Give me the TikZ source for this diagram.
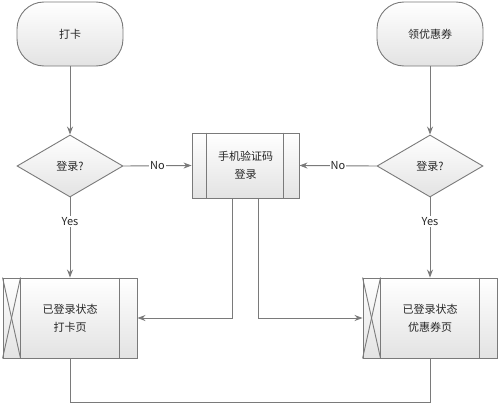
\documentclass[tikz,border=0pt]{standalone}
\usepackage{fontspec}
\setmainfont{Noto Sans CJK SC}
\usetikzlibrary{arrows.meta,shapes.geometric}
\definecolor{linegray}{HTML}{7A7A7A}
\definecolor{textgray}{HTML}{262626}

\begin{document}
\begin{tikzpicture}[x=1pt,y=-1pt,
        font=\fontsize{11}{18}\selectfont,
        every node/.append style={text=textgray},
        boxfill/.style={draw=linegray,line width=0.9pt,top color=white,bottom color=black!11},
        terminal/.style={boxfill,rectangle,rounded corners=27pt,minimum width=106pt,minimum height=64pt},
        decision/.style={boxfill,diamond,inner sep=0pt,minimum width=106pt,minimum height=62pt},
        process/.style={boxfill,rectangle,align=center,inner sep=0pt},
        link/.style={draw=linegray,line width=0.9pt,-{Stealth[length=8pt,width=6pt]}},
        tag/.style={fill=white,inner sep=1pt}]
    \useasboundingbox (0,0) rectangle (500,404);

    % start and decisions
    \node[terminal] (card) at (70,34) {打卡};
    \node[terminal] (coupon) at (430,34) {领优惠券};
    \node[decision] (ask1) at (70,166) {登录?};
    \node[decision] (ask2) at (430,166) {登录?};

    % process boxes
    \node[process,minimum width=107pt,minimum height=65pt] (sms) at (245.5,165.5) {手机验证码\\登录};
    \node[process,minimum width=134pt,minimum height=80pt] (cardpage) at (70,318) {已登录状态\\打卡页};
    \node[process,minimum width=134pt,minimum height=80pt] (couponpage) at (430,318) {已登录状态\\优惠券页};
    \coordinate (base) at (250,402);

    \begin{scope}[draw=linegray,line width=0.9pt]
        \draw ([xshift=15pt]sms.north west) -- ([xshift=15pt]sms.south west);
        \draw ([xshift=-16pt]sms.north east) -- ([xshift=-16pt]sms.south east);
        \foreach \n in {cardpage,couponpage} {
            \draw ([xshift=18pt]\n.north west) -- ([xshift=18pt]\n.south west);
            \draw ([xshift=-18pt]\n.north east) -- ([xshift=-18pt]\n.south east);
            \draw (\n.north west) -- ([xshift=18pt]\n.south west);
            \draw (\n.south west) -- ([xshift=18pt]\n.north west);
        }
    \end{scope}

    % connectors
    \begin{scope}[every path/.style={link}]
        \path (card) -- (ask1);
        \path (coupon) -- (ask2);
        \path (ask1.east) -- node[tag] {No} (sms.west);
        \path (ask2.west) -- node[tag] {No} (sms.east);
        \path (ask1.south) -- node[tag,pos=0.3] {Yes} (cardpage.north);
        \path (ask2.south) -- node[tag,pos=0.3] {Yes} (couponpage.north);
        \path ([xshift=-13pt]sms.south) |- (cardpage.east);
        \path ([xshift=13pt]sms.south) |- (couponpage.west);
    \end{scope}
    \draw[draw=linegray,line width=0.9pt] (cardpage.south) -- (cardpage.south |- base) -| (couponpage.south);
\end{tikzpicture}
\end{document}
